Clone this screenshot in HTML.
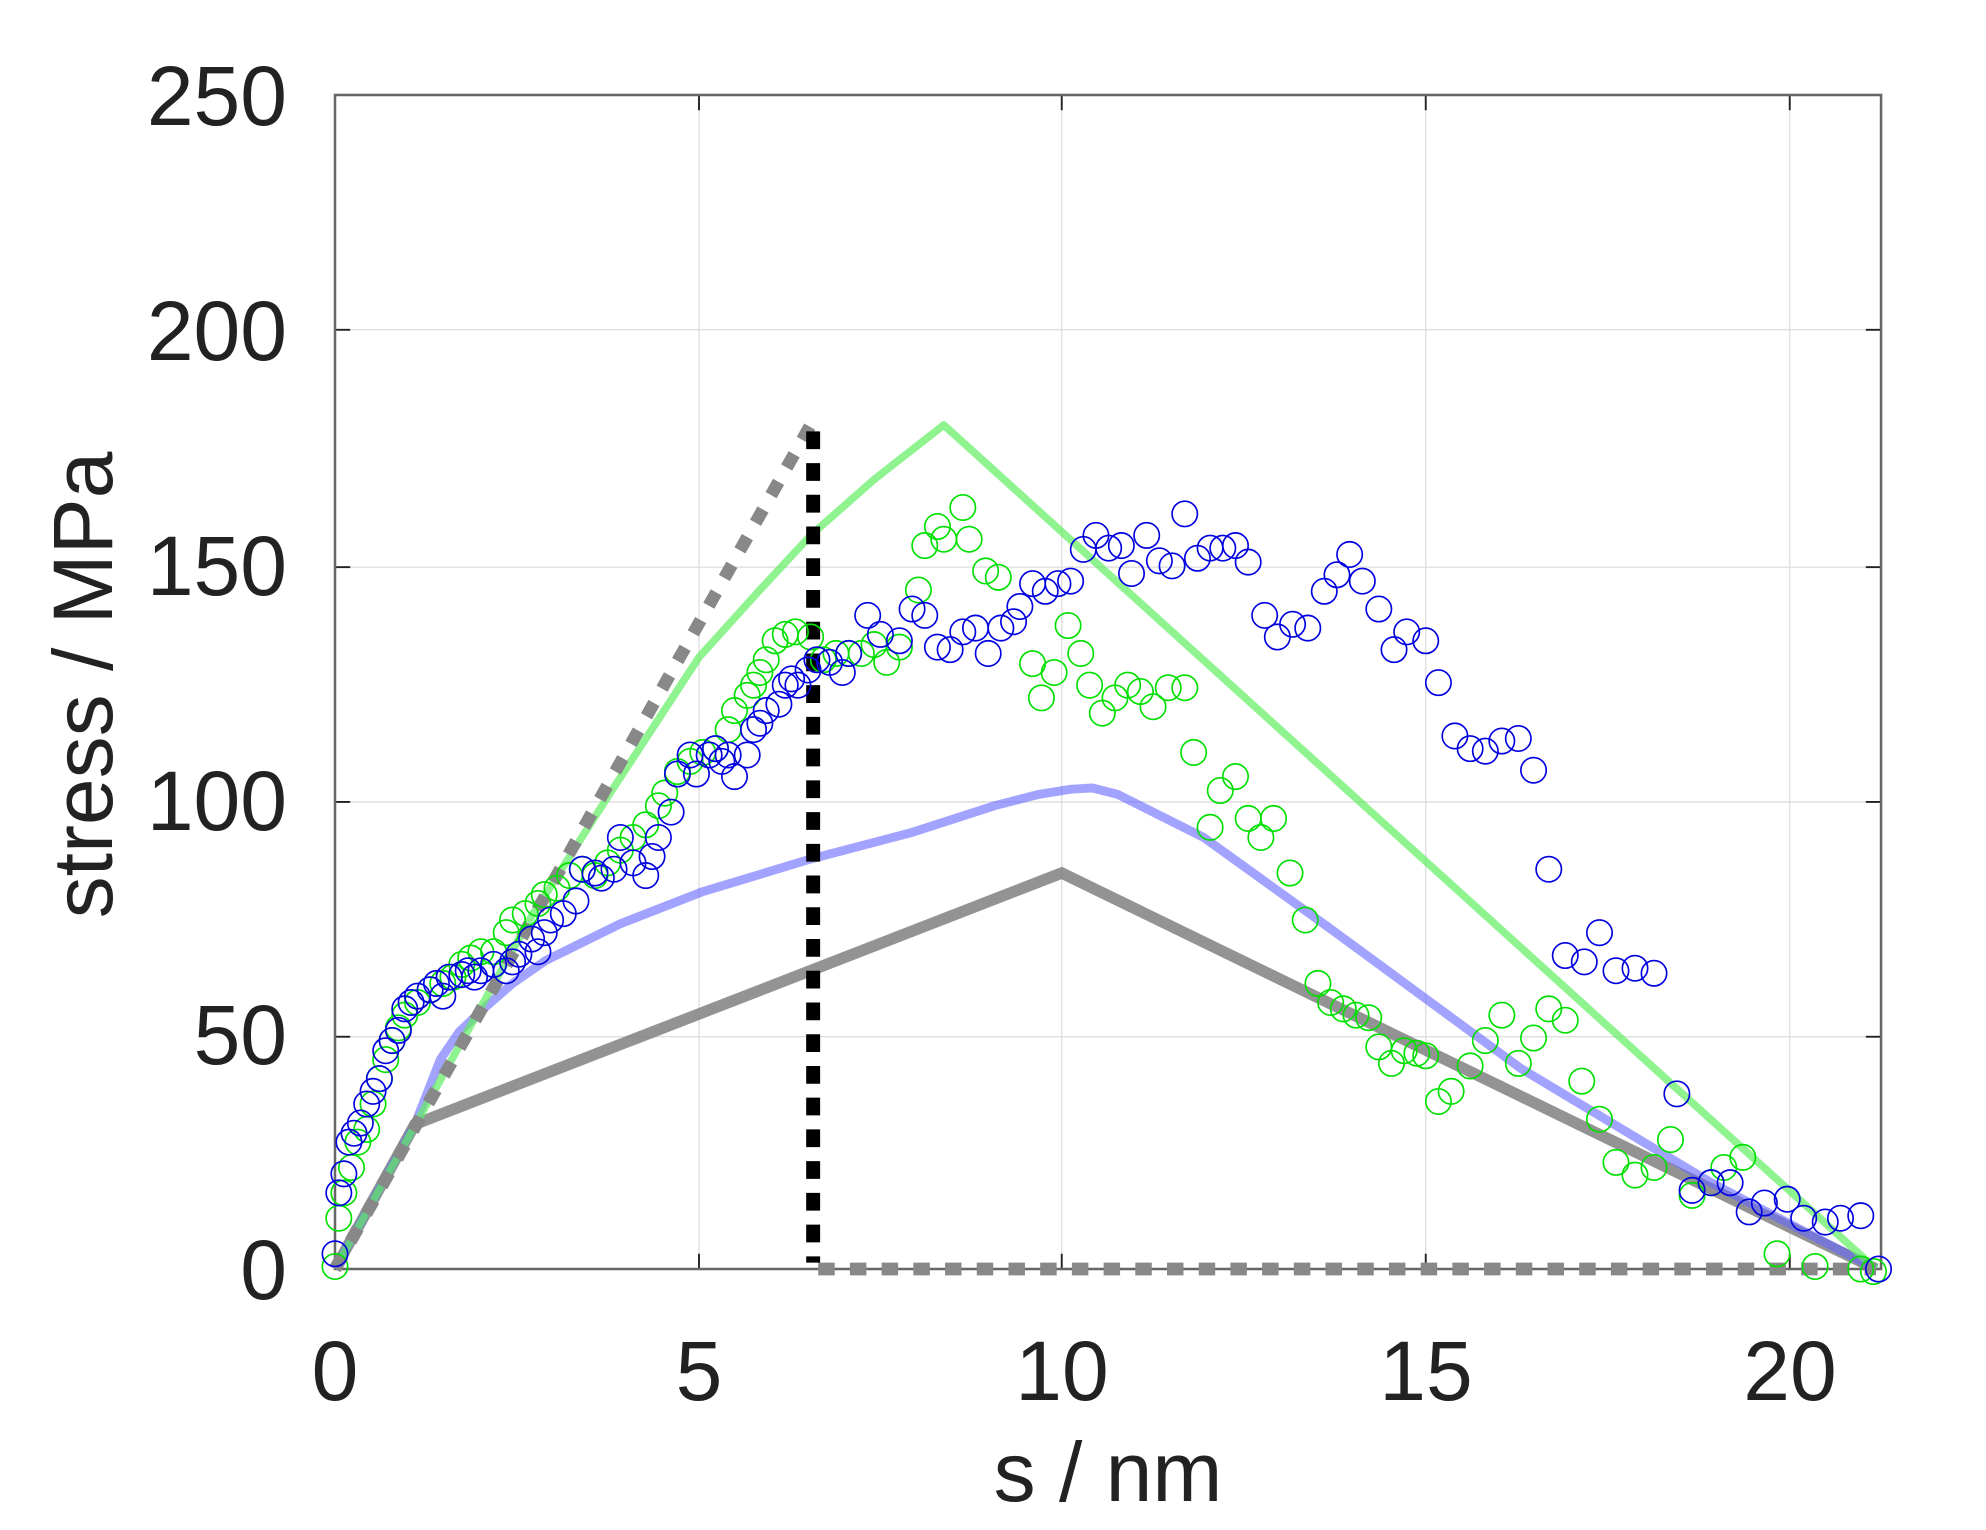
<!DOCTYPE html>
<html><head><meta charset="utf-8"><style>html,body{margin:0;padding:0;background:#fff}svg{display:block}</style></head>
<body>
<svg width="1986" height="1530" viewBox="0 0 1986 1530" xmlns="http://www.w3.org/2000/svg" font-family="Liberation Sans, sans-serif">
<rect width="1986" height="1530" fill="#fff"/>
<g transform="translate(335,95) scale(1.2683,1.2692) translate(-265,-75)">
<g stroke="#dcdcdc" stroke-width="1">
<line x1="552" y1="75" x2="552" y2="1000"/><line x1="838" y1="75" x2="838" y2="1000"/><line x1="1125" y1="75" x2="1125" y2="1000"/><line x1="1412" y1="75" x2="1412" y2="1000"/>
<line x1="265" y1="260" x2="1484" y2="260"/><line x1="265" y1="447" x2="1484" y2="447"/><line x1="265" y1="632" x2="1484" y2="632"/><line x1="265" y1="817" x2="1484" y2="817"/>
</g>
<g stroke="#222" stroke-width="1.5">
<line x1="265" y1="260" x2="277" y2="260"/><line x1="265" y1="447" x2="277" y2="447"/><line x1="265" y1="632" x2="277" y2="632"/><line x1="265" y1="817" x2="277" y2="817"/>
<line x1="1484" y1="260" x2="1472" y2="260"/><line x1="1484" y1="447" x2="1472" y2="447"/><line x1="1484" y1="632" x2="1472" y2="632"/><line x1="1484" y1="817" x2="1472" y2="817"/>
<line x1="552" y1="1000" x2="552" y2="988"/><line x1="838" y1="1000" x2="838" y2="988"/><line x1="1125" y1="1000" x2="1125" y2="988"/><line x1="1412" y1="1000" x2="1412" y2="988"/>
<line x1="552" y1="75" x2="552" y2="87"/><line x1="838" y1="75" x2="838" y2="87"/><line x1="1125" y1="75" x2="1125" y2="87"/><line x1="1412" y1="75" x2="1412" y2="87"/>
</g>
<rect x="265" y="75" width="1219" height="925" fill="none" stroke="#666" stroke-width="2"/>
<polyline points="265,1000 328,886 838,688 1480,1000" fill="none" stroke="#808080" stroke-opacity="0.85" stroke-width="9"/>
<polyline points="265,1000 328,886 348,835 363,813 381,796 405,775 431,757 490,728 554,703 640,677 720,656 785,635 820,626 845,622 862,621 882,626 950,660 1050,732 1200,842 1350,932 1480,1000" fill="none" stroke="#6464ff" stroke-opacity="0.6" stroke-width="7" stroke-linejoin="round"/>
<polyline points="265,1000 420,722 480,628 552,518 600,465 640,422 690,378 745,335 1480,1000" fill="none" stroke="#60ee60" stroke-opacity="0.7" stroke-width="6" stroke-linejoin="round"/>
<line x1="265" y1="1000" x2="640" y2="335" stroke="#888" stroke-width="10" stroke-dasharray="12 13"/>
<line x1="646" y1="1000" x2="1480" y2="1000" stroke="#888" stroke-width="10" stroke-dasharray="13 12"/>
<line x1="642" y1="340" x2="642" y2="995" stroke="#000" stroke-width="11" stroke-dasharray="14 11"/>
<g fill="none" stroke="#00e000" stroke-width="1.3">
<circle cx="265" cy="998" r="10"/><circle cx="268" cy="960" r="10"/><circle cx="272" cy="940" r="10"/><circle cx="278" cy="920" r="10"/><circle cx="283" cy="900" r="10"/><circle cx="290" cy="890" r="10"/><circle cx="295" cy="870" r="10"/><circle cx="300" cy="850" r="10"/><circle cx="305" cy="835" r="10"/><circle cx="310" cy="820" r="10"/><circle cx="315" cy="810" r="10"/><circle cx="320" cy="800" r="10"/><circle cx="330" cy="790" r="10"/><circle cx="340" cy="780" r="10"/><circle cx="350" cy="775" r="10"/><circle cx="358" cy="770" r="10"/><circle cx="365" cy="760" r="10"/><circle cx="372" cy="755" r="10"/><circle cx="380" cy="750" r="10"/><circle cx="390" cy="750" r="10"/><circle cx="400" cy="735" r="10"/><circle cx="405" cy="725" r="10"/><circle cx="415" cy="720" r="10"/><circle cx="425" cy="712" r="10"/><circle cx="430" cy="705" r="10"/><circle cx="440" cy="700" r="10"/><circle cx="450" cy="690" r="10"/><circle cx="460" cy="685" r="10"/><circle cx="470" cy="690" r="10"/><circle cx="480" cy="680" r="10"/><circle cx="490" cy="670" r="10"/><circle cx="500" cy="660" r="10"/><circle cx="510" cy="650" r="10"/><circle cx="520" cy="635" r="10"/><circle cx="525" cy="625" r="10"/><circle cx="535" cy="608" r="10"/><circle cx="545" cy="600" r="10"/><circle cx="555" cy="593" r="10"/><circle cx="565" cy="590" r="10"/><circle cx="575" cy="575" r="10"/><circle cx="580" cy="560" r="10"/><circle cx="590" cy="548" r="10"/><circle cx="595" cy="540" r="10"/><circle cx="600" cy="530" r="10"/><circle cx="605" cy="520" r="10"/><circle cx="612" cy="505" r="10"/><circle cx="620" cy="500" r="10"/><circle cx="628" cy="498" r="10"/><circle cx="640" cy="502" r="10"/><circle cx="650" cy="520" r="10"/><circle cx="660" cy="515" r="10"/><circle cx="670" cy="515" r="10"/><circle cx="680" cy="515" r="10"/><circle cx="690" cy="508" r="10"/><circle cx="700" cy="522" r="10"/><circle cx="710" cy="510" r="10"/><circle cx="725" cy="465" r="10"/><circle cx="730" cy="430" r="10"/><circle cx="740" cy="415" r="10"/><circle cx="745" cy="425" r="10"/><circle cx="760" cy="400" r="10"/><circle cx="765" cy="425" r="10"/><circle cx="778" cy="450" r="10"/><circle cx="788" cy="455" r="10"/><circle cx="815" cy="523" r="10"/><circle cx="822" cy="550" r="10"/><circle cx="832" cy="530" r="10"/><circle cx="843" cy="493" r="10"/><circle cx="853" cy="515" r="10"/><circle cx="860" cy="540" r="10"/><circle cx="870" cy="562" r="10"/><circle cx="880" cy="550" r="10"/><circle cx="890" cy="540" r="10"/><circle cx="900" cy="545" r="10"/><circle cx="910" cy="557" r="10"/><circle cx="922" cy="542" r="10"/><circle cx="935" cy="542" r="10"/><circle cx="942" cy="593" r="10"/><circle cx="955" cy="652" r="10"/><circle cx="963" cy="623" r="10"/><circle cx="975" cy="612" r="10"/><circle cx="985" cy="645" r="10"/><circle cx="995" cy="660" r="10"/><circle cx="1005" cy="645" r="10"/><circle cx="1018" cy="688" r="10"/><circle cx="1030" cy="725" r="10"/><circle cx="1040" cy="775" r="10"/><circle cx="1050" cy="790" r="10"/><circle cx="1060" cy="795" r="10"/><circle cx="1070" cy="800" r="10"/><circle cx="1080" cy="802" r="10"/><circle cx="1088" cy="825" r="10"/><circle cx="1098" cy="838" r="10"/><circle cx="1108" cy="828" r="10"/><circle cx="1118" cy="830" r="10"/><circle cx="1125" cy="832" r="10"/><circle cx="1135" cy="868" r="10"/><circle cx="1145" cy="860" r="10"/><circle cx="1160" cy="840" r="10"/><circle cx="1172" cy="820" r="10"/><circle cx="1185" cy="800" r="10"/><circle cx="1198" cy="838" r="10"/><circle cx="1210" cy="818" r="10"/><circle cx="1222" cy="795" r="10"/><circle cx="1235" cy="804" r="10"/><circle cx="1248" cy="852" r="10"/><circle cx="1262" cy="882" r="10"/><circle cx="1275" cy="916" r="10"/><circle cx="1290" cy="926" r="10"/><circle cx="1305" cy="920" r="10"/><circle cx="1318" cy="898" r="10"/><circle cx="1335" cy="942" r="10"/><circle cx="1350" cy="932" r="10"/><circle cx="1360" cy="920" r="10"/><circle cx="1375" cy="912" r="10"/><circle cx="1402" cy="988" r="10"/><circle cx="1432" cy="998" r="10"/><circle cx="1468" cy="1000" r="10"/><circle cx="1478" cy="1002" r="10"/>
</g>
<g fill="none" stroke="#0000e0" stroke-width="1.3">
<circle cx="265" cy="988" r="10"/><circle cx="268" cy="940" r="10"/><circle cx="272" cy="925" r="10"/><circle cx="276" cy="900" r="10"/><circle cx="280" cy="893" r="10"/><circle cx="285" cy="885" r="10"/><circle cx="290" cy="870" r="10"/><circle cx="295" cy="860" r="10"/><circle cx="300" cy="850" r="10"/><circle cx="305" cy="828" r="10"/><circle cx="310" cy="820" r="10"/><circle cx="315" cy="812" r="10"/><circle cx="320" cy="795" r="10"/><circle cx="325" cy="790" r="10"/><circle cx="330" cy="785" r="10"/><circle cx="340" cy="780" r="10"/><circle cx="345" cy="775" r="10"/><circle cx="350" cy="785" r="10"/><circle cx="355" cy="770" r="10"/><circle cx="365" cy="768" r="10"/><circle cx="370" cy="765" r="10"/><circle cx="375" cy="770" r="10"/><circle cx="380" cy="765" r="10"/><circle cx="390" cy="760" r="10"/><circle cx="400" cy="765" r="10"/><circle cx="405" cy="758" r="10"/><circle cx="410" cy="752" r="10"/><circle cx="420" cy="740" r="10"/><circle cx="425" cy="750" r="10"/><circle cx="430" cy="735" r="10"/><circle cx="435" cy="725" r="10"/><circle cx="445" cy="720" r="10"/><circle cx="455" cy="710" r="10"/><circle cx="460" cy="685" r="10"/><circle cx="470" cy="688" r="10"/><circle cx="475" cy="692" r="10"/><circle cx="485" cy="685" r="10"/><circle cx="490" cy="660" r="10"/><circle cx="500" cy="680" r="10"/><circle cx="510" cy="690" r="10"/><circle cx="515" cy="675" r="10"/><circle cx="520" cy="660" r="10"/><circle cx="530" cy="640" r="10"/><circle cx="535" cy="610" r="10"/><circle cx="545" cy="595" r="10"/><circle cx="550" cy="610" r="10"/><circle cx="560" cy="595" r="10"/><circle cx="565" cy="590" r="10"/><circle cx="570" cy="600" r="10"/><circle cx="575" cy="595" r="10"/><circle cx="580" cy="612" r="10"/><circle cx="590" cy="595" r="10"/><circle cx="595" cy="575" r="10"/><circle cx="600" cy="570" r="10"/><circle cx="605" cy="560" r="10"/><circle cx="615" cy="555" r="10"/><circle cx="620" cy="540" r="10"/><circle cx="625" cy="535" r="10"/><circle cx="630" cy="540" r="10"/><circle cx="638" cy="528" r="10"/><circle cx="645" cy="520" r="10"/><circle cx="655" cy="522" r="10"/><circle cx="665" cy="530" r="10"/><circle cx="670" cy="515" r="10"/><circle cx="685" cy="485" r="10"/><circle cx="695" cy="500" r="10"/><circle cx="710" cy="505" r="10"/><circle cx="720" cy="480" r="10"/><circle cx="730" cy="485" r="10"/><circle cx="740" cy="510" r="10"/><circle cx="750" cy="512" r="10"/><circle cx="760" cy="498" r="10"/><circle cx="770" cy="495" r="10"/><circle cx="780" cy="515" r="10"/><circle cx="790" cy="495" r="10"/><circle cx="800" cy="490" r="10"/><circle cx="805" cy="478" r="10"/><circle cx="815" cy="460" r="10"/><circle cx="825" cy="466" r="10"/><circle cx="835" cy="460" r="10"/><circle cx="845" cy="458" r="10"/><circle cx="855" cy="433" r="10"/><circle cx="865" cy="422" r="10"/><circle cx="875" cy="432" r="10"/><circle cx="885" cy="430" r="10"/><circle cx="893" cy="452" r="10"/><circle cx="905" cy="422" r="10"/><circle cx="915" cy="442" r="10"/><circle cx="925" cy="446" r="10"/><circle cx="935" cy="405" r="10"/><circle cx="945" cy="440" r="10"/><circle cx="955" cy="432" r="10"/><circle cx="965" cy="432" r="10"/><circle cx="975" cy="430" r="10"/><circle cx="985" cy="443" r="10"/><circle cx="998" cy="485" r="10"/><circle cx="1008" cy="502" r="10"/><circle cx="1020" cy="492" r="10"/><circle cx="1032" cy="495" r="10"/><circle cx="1045" cy="466" r="10"/><circle cx="1055" cy="453" r="10"/><circle cx="1065" cy="437" r="10"/><circle cx="1075" cy="458" r="10"/><circle cx="1088" cy="480" r="10"/><circle cx="1100" cy="512" r="10"/><circle cx="1110" cy="498" r="10"/><circle cx="1125" cy="505" r="10"/><circle cx="1135" cy="538" r="10"/><circle cx="1148" cy="580" r="10"/><circle cx="1160" cy="590" r="10"/><circle cx="1172" cy="592" r="10"/><circle cx="1185" cy="584" r="10"/><circle cx="1198" cy="582" r="10"/><circle cx="1210" cy="607" r="10"/><circle cx="1222" cy="685" r="10"/><circle cx="1235" cy="753" r="10"/><circle cx="1250" cy="758" r="10"/><circle cx="1262" cy="735" r="10"/><circle cx="1275" cy="765" r="10"/><circle cx="1290" cy="763" r="10"/><circle cx="1305" cy="767" r="10"/><circle cx="1323" cy="862" r="10"/><circle cx="1335" cy="938" r="10"/><circle cx="1350" cy="932" r="10"/><circle cx="1365" cy="932" r="10"/><circle cx="1380" cy="955" r="10"/><circle cx="1392" cy="948" r="10"/><circle cx="1410" cy="945" r="10"/><circle cx="1423" cy="960" r="10"/><circle cx="1440" cy="963" r="10"/><circle cx="1452" cy="960" r="10"/><circle cx="1468" cy="958" r="10"/><circle cx="1482" cy="1000" r="10"/>
</g>
</g>
<g fill="#222" font-size="84" text-anchor="end">
<text x="287" y="125">250</text>
<text x="287" y="360">200</text>
<text x="287" y="595">150</text>
<text x="287" y="830">100</text>
<text x="287" y="1064">50</text>
<text x="287" y="1299">0</text>
</g>
<g fill="#222" font-size="84" text-anchor="middle">
<text x="335" y="1400">0</text>
<text x="699" y="1400">5</text>
<text x="1062" y="1400">10</text>
<text x="1426" y="1400">15</text>
<text x="1790" y="1400">20</text>
<text x="1108" y="1501">s / nm</text>
<text transform="translate(112,685) rotate(-90)">stress / MPa</text>
</g>
</svg>
</body></html>
